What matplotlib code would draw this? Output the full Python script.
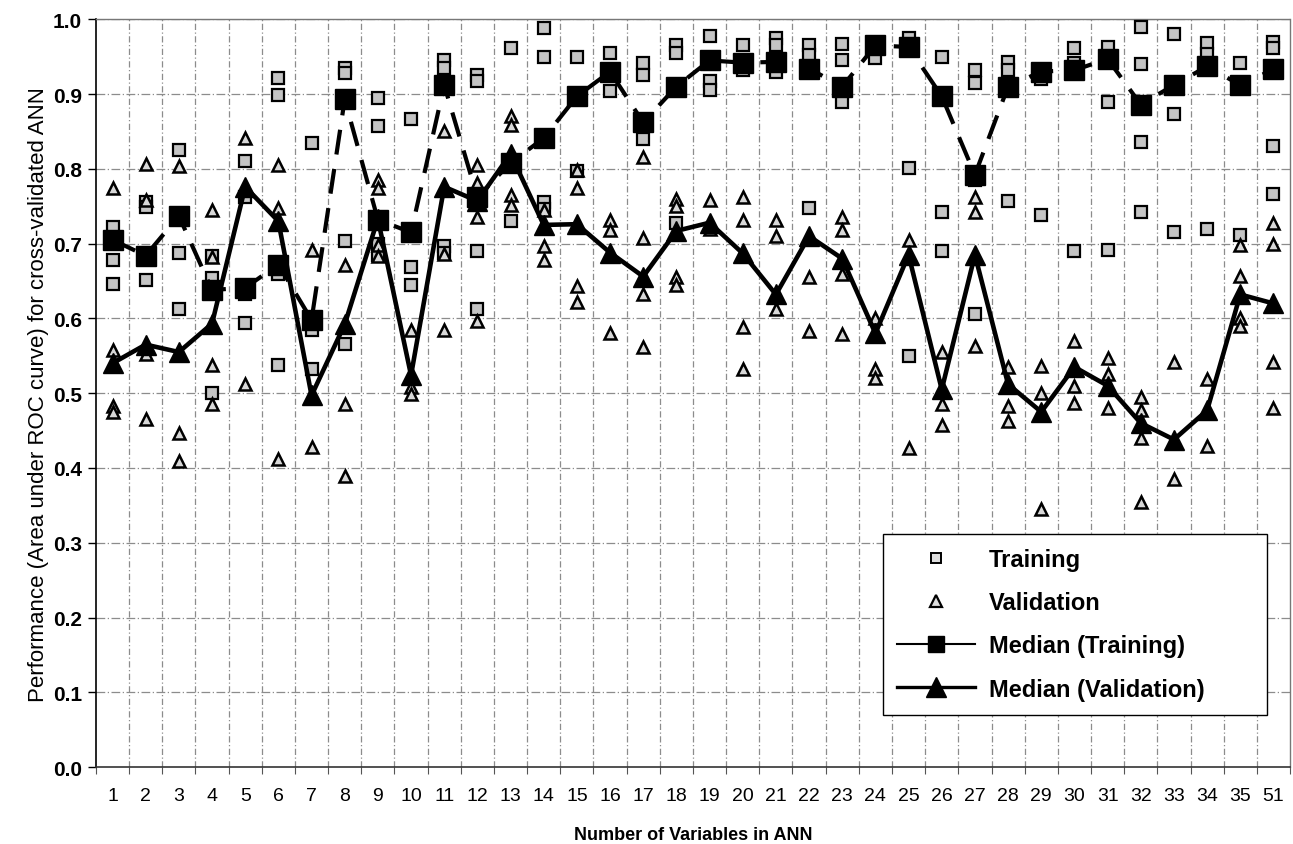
import matplotlib.pyplot as plt
from matplotlib.lines import Line2D
import numpy as np

plt.rcParams['font.family'] = ['Liberation Sans', 'DejaVu Sans']
narrow = ['Liberation Sans Narrow', 'Liberation Sans', 'DejaVu Sans']

categories = ["1", "2", "3", "4", "5", "6", "7", "8", "9", "10", "11", "12",
              "13", "14", "15", "16", "17", "18", "19", "20", "21", "22", "23", "24",
              "25", "26", "27", "28", "29", "30", "31", "32", "33", "34", "35", "51"]

# individual cross-validation runs (visible points)
training = [
    [0.722, 0.678, 0.646],
    [0.756, 0.749, 0.651],
    [0.825, 0.688, 0.613],
    [0.684, 0.654, 0.500],
    [0.810, 0.763, 0.632, 0.594],
    [0.922, 0.899, 0.660, 0.538],
    [0.834, 0.585, 0.532],
    [0.935, 0.928, 0.703, 0.566],
    [0.895, 0.857, 0.700, 0.685],
    [0.866, 0.669, 0.645],
    [0.946, 0.935, 0.697, 0.688],
    [0.925, 0.918, 0.690, 0.613],
    [0.962, 0.730],
    [0.988, 0.949, 0.755, 0.746],
    [0.949, 0.797],
    [0.955, 0.904],
    [0.941, 0.926, 0.840],
    [0.966, 0.955, 0.727],
    [0.977, 0.918, 0.905],
    [0.965, 0.932],
    [0.975, 0.965, 0.930],
    [0.965, 0.952, 0.748],
    [0.967, 0.946, 0.890],
    [0.948],
    [0.975, 0.801, 0.550],
    [0.950, 0.742, 0.690],
    [0.932, 0.915, 0.785, 0.606],
    [0.943, 0.932, 0.757],
    [0.920, 0.738],
    [0.962, 0.942, 0.690],
    [0.963, 0.890, 0.692],
    [0.990, 0.940, 0.836, 0.742],
    [0.980, 0.873, 0.716],
    [0.968, 0.954, 0.720],
    [0.942, 0.712],
    [0.970, 0.962, 0.830, 0.767],
]

validation = [
    [0.775, 0.558, 0.483, 0.475],
    [0.807, 0.758, 0.553, 0.465],
    [0.804, 0.447, 0.409],
    [0.745, 0.682, 0.538, 0.485],
    [0.841, 0.512],
    [0.805, 0.747, 0.412],
    [0.691, 0.428],
    [0.671, 0.486, 0.389],
    [0.785, 0.775, 0.698, 0.684],
    [0.585, 0.508, 0.499],
    [0.850, 0.686, 0.584],
    [0.805, 0.781, 0.735, 0.597],
    [0.870, 0.858, 0.765, 0.752],
    [0.745, 0.697, 0.678],
    [0.798, 0.774, 0.643, 0.622],
    [0.732, 0.718, 0.580],
    [0.816, 0.707, 0.633, 0.562],
    [0.760, 0.750, 0.655, 0.645],
    [0.758, 0.720],
    [0.762, 0.732, 0.588, 0.533],
    [0.732, 0.710, 0.612],
    [0.655, 0.583],
    [0.736, 0.718, 0.660, 0.579],
    [0.600, 0.532, 0.520],
    [0.705, 0.427],
    [0.555, 0.485, 0.458],
    [0.762, 0.742, 0.563],
    [0.535, 0.483, 0.463],
    [0.536, 0.500, 0.345],
    [0.570, 0.510, 0.487],
    [0.547, 0.526, 0.480],
    [0.495, 0.478, 0.440, 0.355],
    [0.542, 0.385],
    [0.519, 0.430],
    [0.698, 0.657, 0.600, 0.590],
    [0.727, 0.700, 0.542, 0.480],
]

median_training = [0.705, 0.684, 0.737, 0.638, 0.641, 0.672, 0.598, 0.893, 0.732, 0.715,
                   0.912, 0.762, 0.808, 0.841, 0.897, 0.930, 0.862, 0.910, 0.945, 0.942,
                   0.943, 0.934, 0.910, 0.965, 0.963, 0.897, 0.792, 0.910, 0.930, 0.932,
                   0.947, 0.886, 0.912, 0.937, 0.912, 0.933]

median_validation = [0.540, 0.565, 0.555, 0.593, 0.776, 0.730, 0.497, 0.592, 0.733, 0.524,
                     0.776, 0.757, 0.820, 0.725, 0.726, 0.688, 0.656, 0.717, 0.728, 0.687,
                     0.632, 0.710, 0.680, 0.580, 0.685, 0.505, 0.685, 0.512, 0.475, 0.535,
                     0.510, 0.460, 0.438, 0.477, 0.632, 0.620]

x = np.arange(len(categories))

fig = plt.figure(figsize=(12.93, 8.45), dpi=100)
ax = fig.add_axes([0.0742, 0.091, 0.9235, 0.885])

grid_col = '#8c8c8c'
for y in np.arange(0.1, 1.01, 0.1):
    ax.axhline(y, color=grid_col, lw=0.9, ls=(0, (7, 2, 1, 2)), zorder=0)
for b in np.arange(0.5, len(categories) - 0.5, 1):
    ax.axvline(b, color=grid_col, lw=0.9, ls=(0, (5, 2, 1, 2)), zorder=0)

tx = [xi for xi, vals in zip(x, training) for v in vals]
ty = [v for vals in training for v in vals]
vx = [xi for xi, vals in zip(x, validation) for v in vals]
vy = [v for vals in validation for v in vals]

ax.plot(tx, ty, ls='none', marker='s', ms=8, mfc='#c4c4c4', mec='black', mew=1.6, zorder=3)
ax.plot(vx, vy, ls='none', marker='^', ms=9, mfc='#d8d8d8', mec='black', mew=1.8, zorder=3)

ax.plot(x, median_training, color='black', lw=3, ls=(0, (6, 3.5)),
        marker='s', ms=14, mfc='black', mec='black', zorder=4)
ax.plot(x, median_validation, color='black', lw=3.3, ls='-',
        marker='^', ms=15, mfc='black', mec='black', zorder=5)

ax.set_xlim(-0.5, len(categories) - 0.5)
ax.set_ylim(0, 1.0)
ax.set_yticks(np.arange(0, 1.01, 0.1))
ax.set_yticklabels([f"{v:.1f}" for v in np.arange(0, 1.01, 0.1)],
                   fontsize=15, fontweight='bold')
ax.set_xticks(x)
ax.set_xticklabels(categories, fontsize=14, family=narrow)
ax.set_xticks(np.arange(-0.5, len(categories), 1), minor=True)
ax.tick_params(axis='x', which='major', length=0, pad=14)
ax.tick_params(axis='x', which='minor', length=5, width=0.8, color='#555555', direction='out')
ax.tick_params(axis='y', length=6, width=1, direction='out', pad=4)

ax.spines['left'].set_linewidth(1.2)
ax.spines['bottom'].set_linewidth(1.2)
ax.spines['bottom'].set_color('#333333')
for s in ['top', 'right']:
    ax.spines[s].set_linestyle((0, (1, 1)))
    ax.spines[s].set_color('#777777')
    ax.spines[s].set_linewidth(1)

ax.set_ylabel("Performance (Area under ROC curve) for cross-validated ANN",
              fontsize=16, family=narrow, labelpad=3)
ax.set_xlabel("Number of Variables in ANN", fontsize=13, fontweight='bold', labelpad=16)

handles = [
    Line2D([], [], ls='none', marker='s', ms=7, mfc='#dddddd', mec='black', mew=1.4),
    Line2D([], [], ls='none', marker='^', ms=8, mfc='#dddddd', mec='black', mew=1.6),
    Line2D([], [], color='black', lw=1.5, marker='s', ms=12, mfc='black'),
    Line2D([], [], color='black', lw=2.4, marker='^', ms=14, mfc='black'),
]
labels = ["Training", "Validation", "Median (Training)", "Median (Validation)"]
leg = ax.legend(handles, labels, loc='upper left', mode='expand',
                bbox_to_anchor=(0.659, 0.06, 0.3216, 0.2515),
                frameon=True, fancybox=False, edgecolor='black', framealpha=1,
                prop={'size': 17, 'weight': 'bold'}, handlelength=3.3,
                labelspacing=0.85, borderpad=0.6, handletextpad=0.6, borderaxespad=0)
leg.get_frame().set_linewidth(1.0)
leg.set_zorder(10)

fig.savefig("out.png", dpi=100)
